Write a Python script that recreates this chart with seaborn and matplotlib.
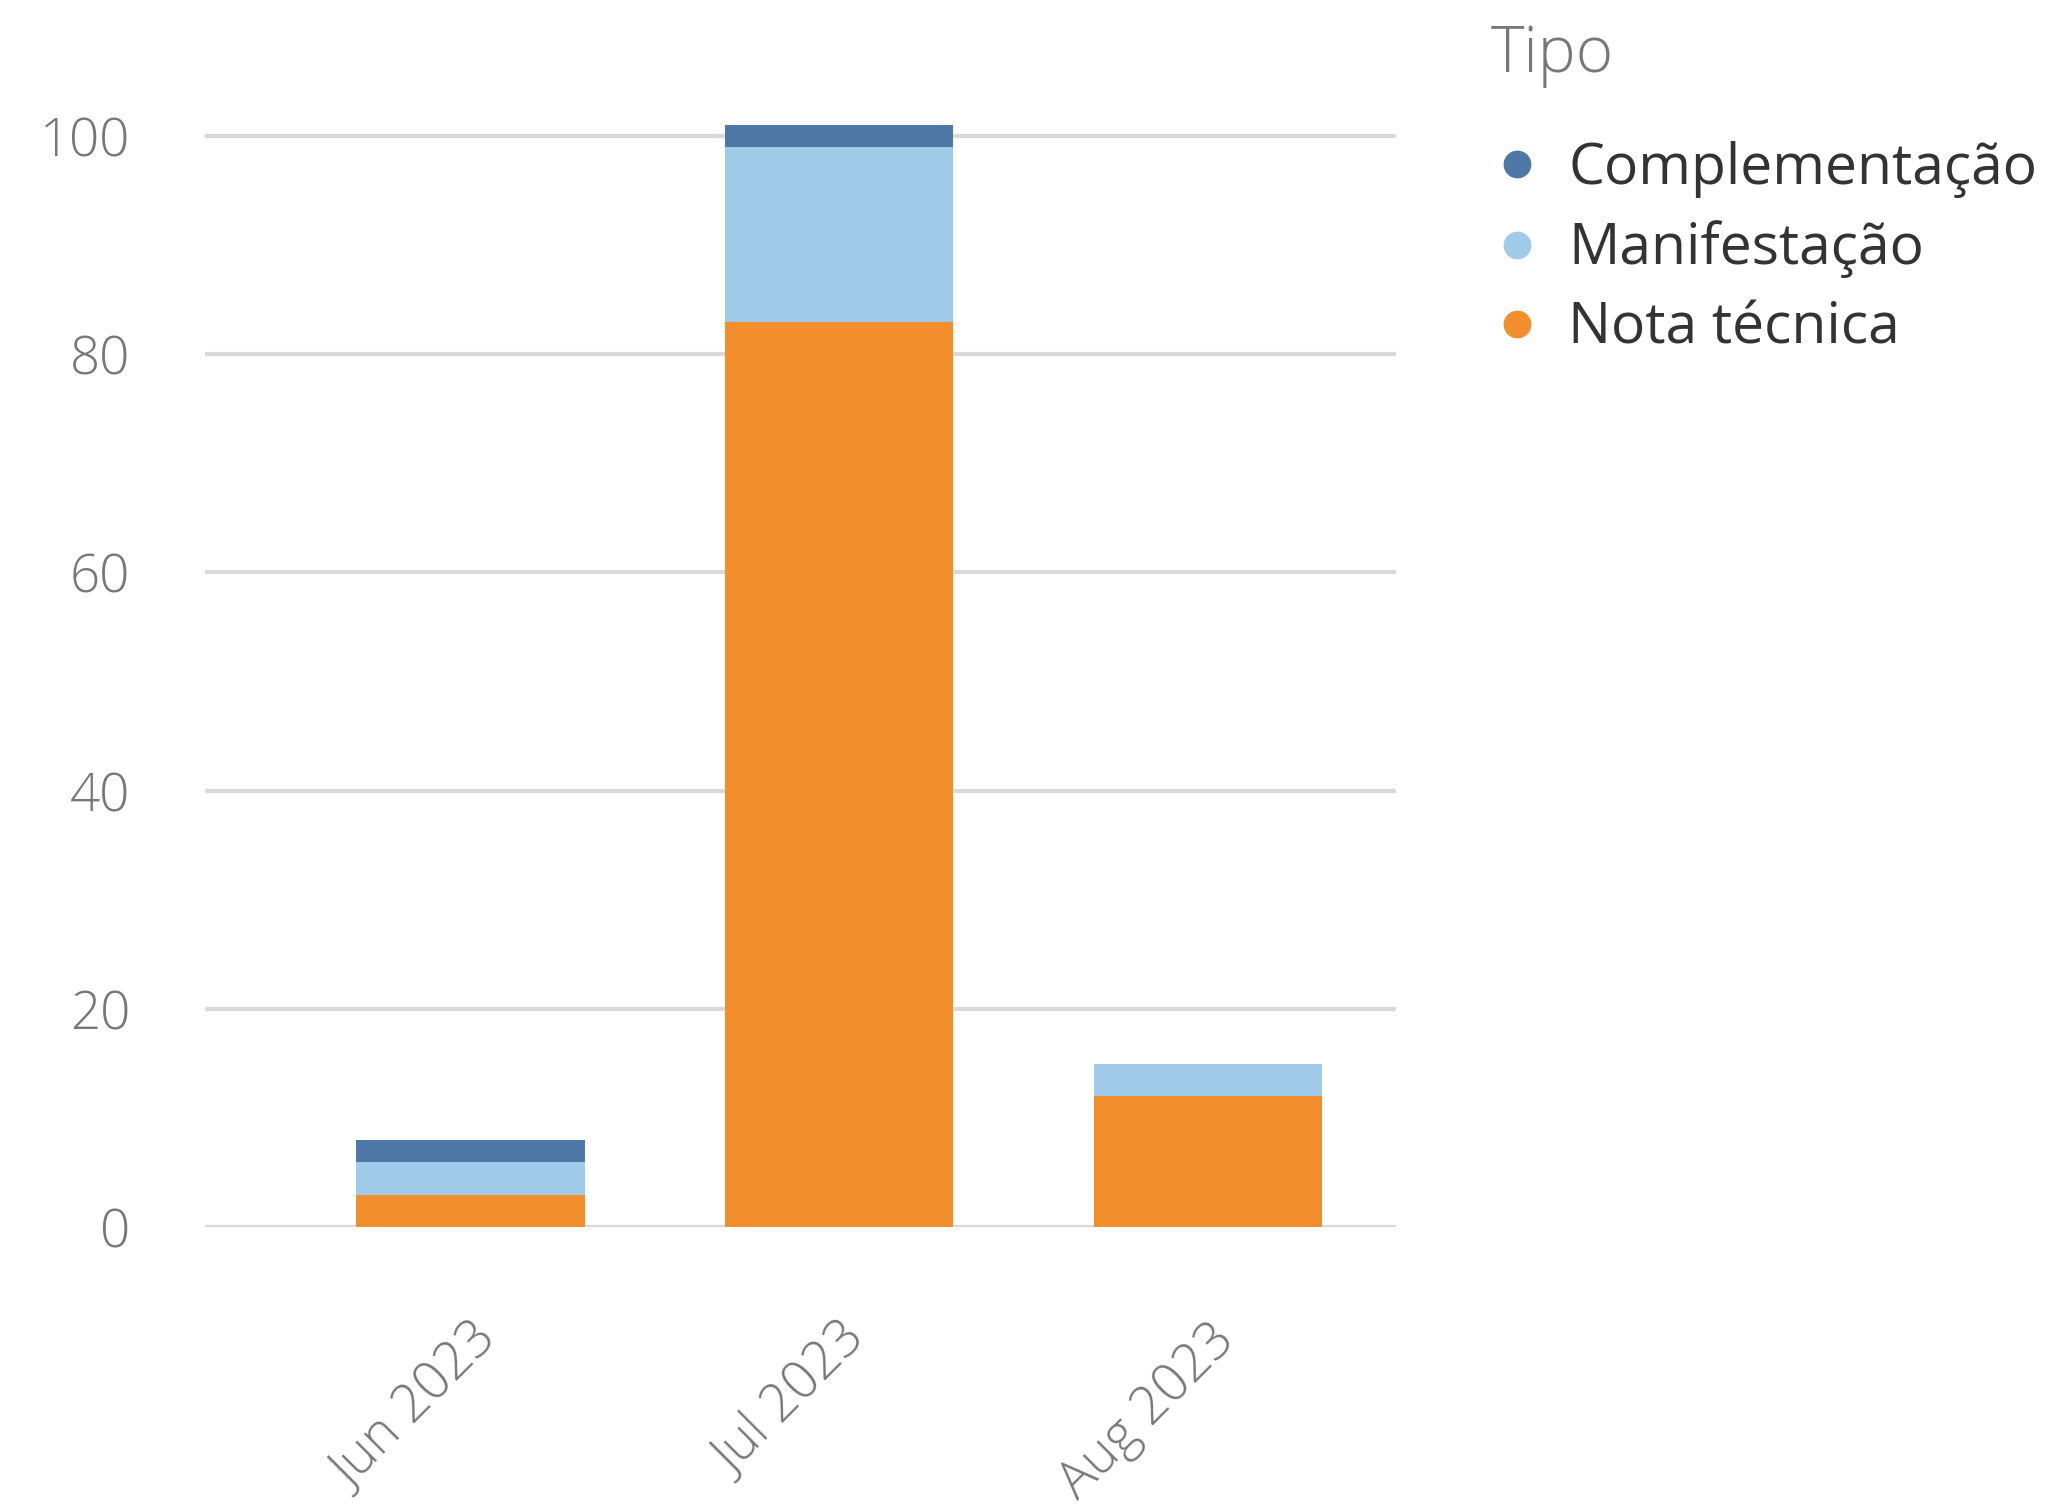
import matplotlib
matplotlib.use('Agg')
import numpy as np
import matplotlib.pyplot as plt
import seaborn as sns
from matplotlib.lines import Line2D
from matplotlib.transforms import ScaledTranslation

# Dados (contagem por mês e tipo)
meses = ['Jun 2023', 'Jul 2023', 'Aug 2023']
nota_tecnica = [3, 83, 12]
manifestacao = [3, 16, 3]
complementacao = [2, 2, 0]

tipos = ['Nota técnica', 'Manifestação', 'Complementação']  # de baixo para cima
cores = ['#F28E2B', '#A0CBE8', '#4E79A7']

sns.set_style('white')
plt.rcParams['font.family'] = ['Open Sans', 'DejaVu Sans']

fig = plt.figure(figsize=(10.32, 7.52), dpi=200)
ax = fig.add_axes([0.0993, 0.184, 0.577, 0.743])

# Barras empilhadas
base = np.zeros(len(meses))
for vals, cor in zip([nota_tecnica, manifestacao, complementacao], cores):
    sns.barplot(x=meses, y=vals, bottom=base, color=cor, width=0.62,
                saturation=1, linewidth=0, errorbar=None, ax=ax)
    base = base + np.array(vals)

ax.set_xlim(-0.72, 2.51)
ax.set_ylim(0, 102.4)
ax.set_yticks(range(0, 101, 20))
ax.yaxis.grid(True, color='#D9D9D9', linewidth=1.5)
ax.set_axisbelow(True)
sns.despine(ax=ax, left=True, bottom=True)
ax.set_xlabel('')
ax.set_ylabel('')

ax.tick_params(length=0, labelsize=19, labelcolor='#777777')
ax.tick_params(axis='y', pad=27)
ax.tick_params(axis='x', pad=38)
for lab in ax.get_yticklabels():
    lab.set_fontweight('light')
for lab in ax.get_xticklabels():
    lab.set_fontweight('light')
    lab.set_rotation(45)
    lab.set_ha('right')
    lab.set_va('center')
    lab.set_rotation_mode('anchor')
    lab.set_transform(lab.get_transform() + ScaledTranslation(7 / 72, 0, fig.dpi_scale_trans))

# Legenda
fig.text(1491 / 2064, 1 - 56 / 1504, 'Tipo', fontsize=23, color='#777777',
         ha='left', va='center', fontweight='light')
ordem = [2, 1, 0]
handles = [Line2D([], [], marker='o', ls='', color=cores[i], markersize=9) for i in ordem]
labels = [tipos[i] for i in ordem]
leg = fig.legend(handles, labels, loc='upper left',
                 bbox_to_anchor=(1494 / 2064, 0.906), frameon=False, fontsize=20.5,
                 labelcolor='#333333', handlelength=0.8, handletextpad=0.5,
                 labelspacing=0.39, borderpad=0, borderaxespad=0)

fig.savefig('out.png', dpi=200)
